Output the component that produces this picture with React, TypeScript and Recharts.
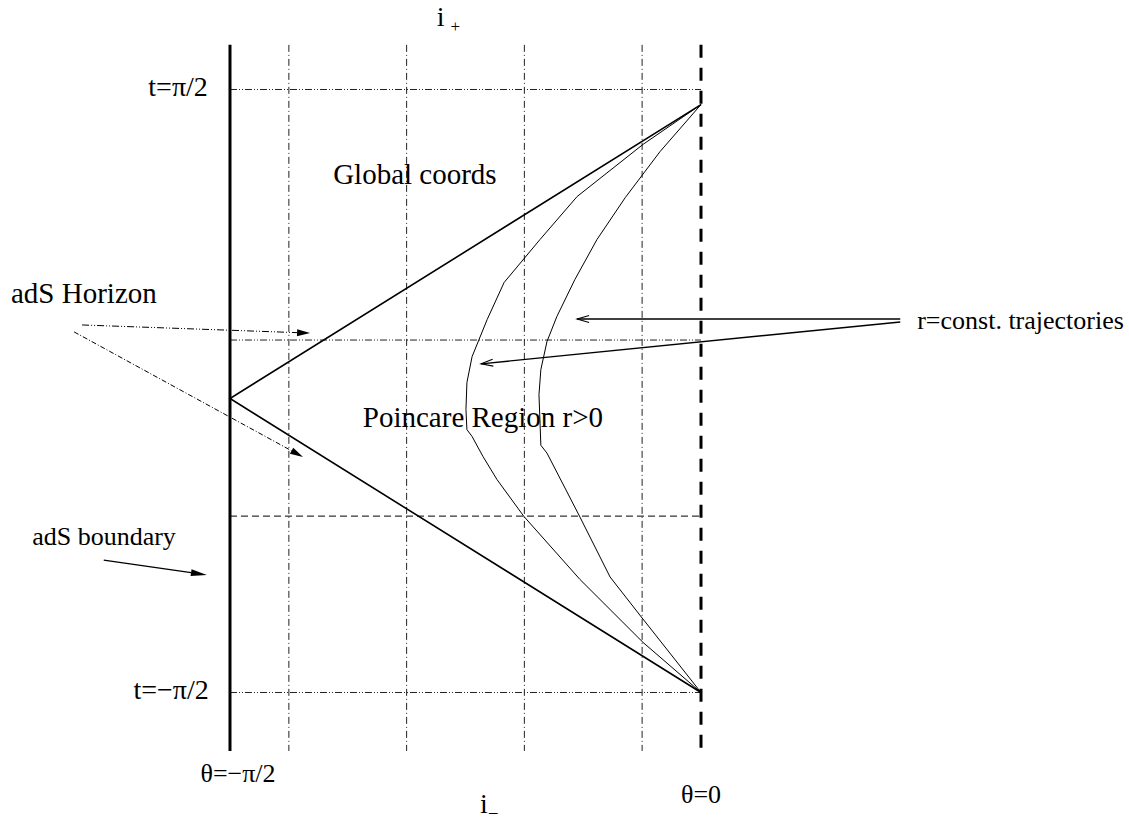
import React from 'react';
import { ComposedChart, Line, XAxis, YAxis, ReferenceLine, ReferenceDot } from 'recharts';

// θ measured in units of π/2 (θ=-π/2 → -1, θ=0 → 0); t measured in units of π/2
const X_DOMAIN: [number, number] = [-1.4883, 0.9087];
const Y_DOMAIN: [number, number] = [-1.4395, 1.2968];

const GRID_THETAS = [-0.875, -0.625, -0.375, -0.125];
const SPINE_TOP = 1.148;
const SPINE_BOTTOM = -1.194;
const T_LIMITS = [1, -1];
const HORIZON_T = 0.169;
const DASHED_T = -0.415;

const lightCone = [
  { u: 0, v: 0.95 },
  { u: -1, v: -0.025 },
  { u: 0, v: -1 },
];

const innerTrajectory = [
  { u: 0, v: 0.95 },
  { u: -0.123, v: 0.818 },
  { u: -0.263, v: 0.645 },
  { u: -0.342, v: 0.502 },
  { u: -0.418, v: 0.36 },
  { u: -0.454, v: 0.237 },
  { u: -0.486, v: 0.114 },
  { u: -0.497, v: 0.028 },
  { u: -0.499, v: -0.061 },
  { u: -0.497, v: -0.128 },
  { u: -0.486, v: -0.151 },
  { u: -0.463, v: -0.217 },
  { u: -0.433, v: -0.294 },
  { u: -0.376, v: -0.416 },
  { u: -0.257, v: -0.625 },
  { u: -0.123, v: -0.834 },
  { u: 0, v: -1 },
];

const outerTrajectory = [
  { u: 0, v: 0.95 },
  { u: -0.087, v: 0.794 },
  { u: -0.161, v: 0.641 },
  { u: -0.221, v: 0.502 },
  { u: -0.268, v: 0.369 },
  { u: -0.306, v: 0.247 },
  { u: -0.327, v: 0.164 },
  { u: -0.34, v: 0.071 },
  { u: -0.344, v: -0.012 },
  { u: -0.342, v: -0.095 },
  { u: -0.34, v: -0.18 },
  { u: -0.327, v: -0.206 },
  { u: -0.257, v: -0.418 },
  { u: -0.193, v: -0.617 },
  { u: -0.13, v: -0.743 },
  { u: 0, v: -1 },
];

type Arrow = { from: [number, number]; to: [number, number]; head: 'filled' | 'open'; dash?: string; width: number; len: number; half: number };
const arrows: Arrow[] = [
  { from: [-1.314, 0.219], to: [-0.83, 0.192], head: 'filled', dash: '7 2 1 2 1 2', width: 1, len: 13, half: 3.5 },
  { from: [-1.331, 0.196], to: [-0.845, -0.219], head: 'filled', dash: '5 2 1 2', width: 1, len: 13, half: 3.5 },
  { from: [-1.268, -0.561], to: [-1.049, -0.61], head: 'filled', width: 1.4, len: 16, half: 3.5 },
  { from: [0.423, 0.239], to: [-0.263, 0.239], head: 'open', width: 1.4, len: 12, half: 3.5 },
  { from: [0.423, 0.229], to: [-0.467, 0.09], head: 'open', width: 1.4, len: 12, half: 3.5 },
];

type Label = { u: number; v: number; text: string; size: number; anchor: 'start' | 'middle' | 'end'; sub?: string };
const labels: Label[] = [
  { u: -0.561, v: 1.21, text: 'i', size: 28, anchor: 'start', sub: '+' },
  { u: -1.047, v: 0.978, text: 't=π/2', size: 28, anchor: 'end' },
  { u: -1.045, v: -1.022, text: 't=−π/2', size: 28, anchor: 'end' },
  { u: -0.781, v: 0.687, text: 'Global coords', size: 29, anchor: 'start' },
  { u: -1.465, v: 0.292, text: 'adS Horizon', size: 29, anchor: 'start' },
  { u: 0.459, v: 0.206, text: 'r=const. trajectories', size: 26, anchor: 'start' },
  { u: -0.718, v: -0.119, text: 'Poincare Region r>0', size: 29, anchor: 'start' },
  { u: -1.42, v: -0.511, text: 'adS boundary', size: 26, anchor: 'start' },
  { u: -0.983, v: -1.297, text: 'θ=−π/2', size: 26, anchor: 'middle' },
  { u: 0, v: -1.367, text: 'θ=0', size: 26, anchor: 'middle' },
  { u: -0.469, v: -1.4, text: 'i', size: 28, anchor: 'start', sub: '–' },
];

const FONT = '"Liberation Serif", "Times New Roman", serif';

const makeArrowShape = (a: Arrow) => (props: any) => {
  const { x1, y1, x2, y2 } = props;
  const dx = x2 - x1;
  const dy = y2 - y1;
  const L = Math.hypot(dx, dy) || 1;
  const ux = dx / L;
  const uy = dy / L;
  const bx = x2 - ux * a.len;
  const by = y2 - uy * a.len;
  const px = -uy * a.half;
  const py = ux * a.half;
  const lineEndX = a.head === 'filled' ? bx : x2;
  const lineEndY = a.head === 'filled' ? by : y2;
  return (
    <g>
      <line x1={x1} y1={y1} x2={lineEndX} y2={lineEndY} stroke="#000" strokeWidth={a.width} strokeDasharray={a.dash} />
      {a.head === 'filled' ? (
        <polygon points={`${x2},${y2} ${bx + px},${by + py} ${bx - px},${by - py}`} fill="#000" />
      ) : (
        <polyline points={`${bx + px},${by + py} ${x2},${y2} ${bx - px},${by - py}`} fill="none" stroke="#000" strokeWidth={1.1} />
      )}
    </g>
  );
};

const makeLabelShape = (l: Label) => (props: any) => {
  const { cx, cy } = props;
  return (
    <text x={cx} y={cy} fontFamily={FONT} fontSize={l.size} fill="#000" textAnchor={l.anchor}>
      {l.text}
      {l.sub ? (
        <tspan dx={l.sub === '+' ? 6 : 1} dy={l.sub === '+' ? 6 : 4} fontSize={17}>
          {l.sub}
        </tspan>
      ) : null}
    </text>
  );
};

export default function App() {
  return (
    <div style={{ position: 'absolute', left: 0, top: 0, width: 1129, height: 825, background: '#fff' }}>
      <ComposedChart width={1129} height={825} margin={{ top: 0, right: 0, bottom: 0, left: 0 }}>
        <XAxis type="number" dataKey="u" domain={X_DOMAIN} allowDataOverflow hide />
        <YAxis type="number" dataKey="v" domain={Y_DOMAIN} allowDataOverflow hide />

        {GRID_THETAS.map((g) => (
          <ReferenceLine
            key={`g${g}`}
            segment={[{ x: g, y: SPINE_TOP }, { x: g, y: SPINE_BOTTOM }]}
            stroke="#222"
            strokeWidth={1}
            strokeDasharray="7 3 1 3"
            ifOverflow="visible"
          />
        ))}
        {T_LIMITS.map((t) => (
          <ReferenceLine
            key={`t${t}`}
            segment={[{ x: -1, y: t }, { x: 0, y: t }]}
            stroke="#222"
            strokeWidth={1}
            strokeDasharray="7 2 1 2 1 2"
            ifOverflow="visible"
          />
        ))}
        <ReferenceLine
          segment={[{ x: -1, y: HORIZON_T }, { x: 0, y: HORIZON_T }]}
          stroke="#222"
          strokeWidth={1}
          strokeDasharray="7 2 1 2 1 2"
          ifOverflow="visible"
        />
        <ReferenceLine
          segment={[{ x: -1, y: DASHED_T }, { x: 0, y: DASHED_T }]}
          stroke="#000"
          strokeWidth={1}
          strokeDasharray="7 4"
          ifOverflow="visible"
        />
        <ReferenceLine
          segment={[{ x: -1, y: SPINE_TOP }, { x: -1, y: SPINE_BOTTOM }]}
          stroke="#000"
          strokeWidth={3}
          ifOverflow="visible"
        />
        <ReferenceLine
          segment={[{ x: 0, y: SPINE_TOP }, { x: 0, y: SPINE_BOTTOM }]}
          stroke="#000"
          strokeWidth={3}
          strokeDasharray="13 10"
          ifOverflow="visible"
        />

        <Line data={lightCone} dataKey="v" stroke="#000" strokeWidth={1.6} dot={false} activeDot={false} isAnimationActive={false} />
        <Line data={innerTrajectory} dataKey="v" stroke="#000" strokeWidth={1} dot={false} activeDot={false} isAnimationActive={false} />
        <Line data={outerTrajectory} dataKey="v" stroke="#000" strokeWidth={1} dot={false} activeDot={false} isAnimationActive={false} />

        {arrows.map((a, i) => (
          <ReferenceLine
            key={`a${i}`}
            segment={[{ x: a.from[0], y: a.from[1] }, { x: a.to[0], y: a.to[1] }]}
            ifOverflow="visible"
            shape={makeArrowShape(a)}
          />
        ))}

        {labels.map((l, i) => (
          <ReferenceDot key={`l${i}`} x={l.u} y={l.v} r={0} ifOverflow="visible" shape={makeLabelShape(l)} />
        ))}
      </ComposedChart>
    </div>
  );
}
